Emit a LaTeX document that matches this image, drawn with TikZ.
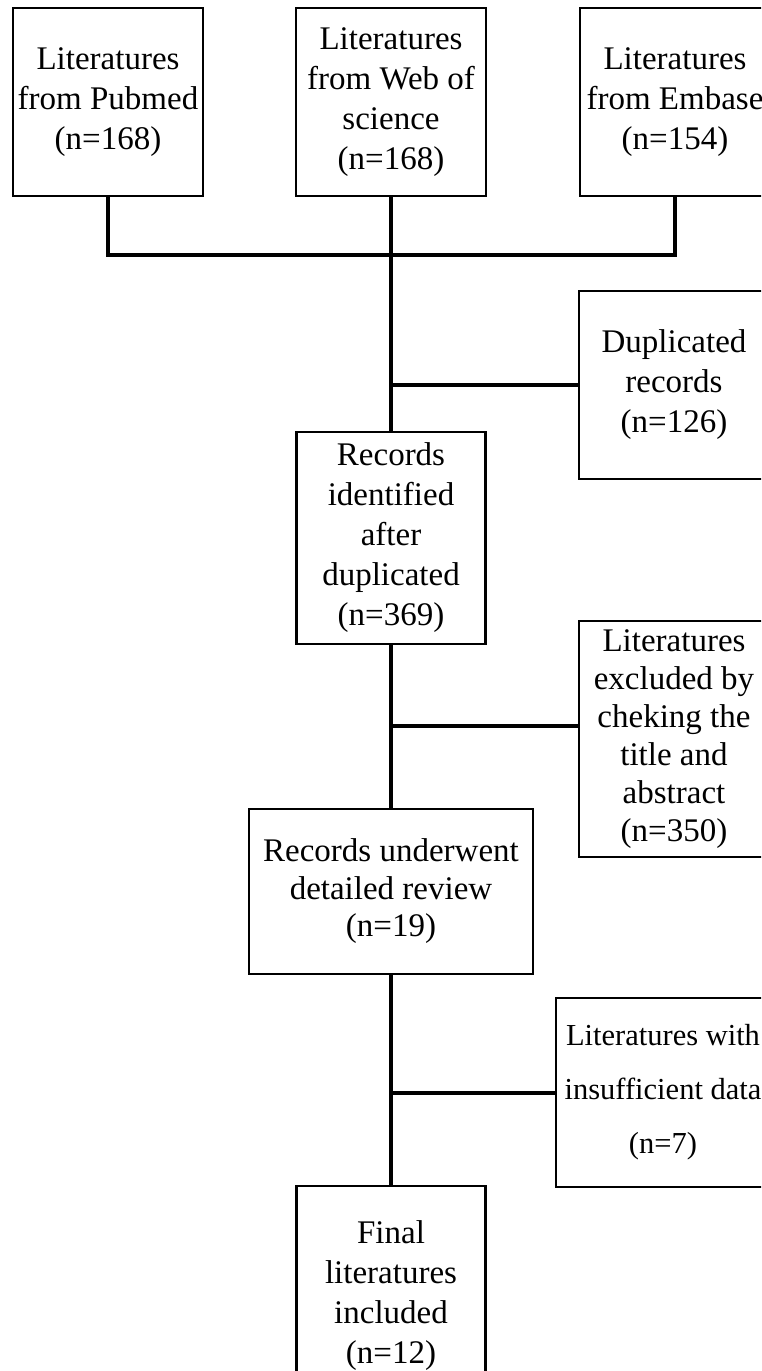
\documentclass[tikz,border=0pt]{standalone}
\usepackage{fontspec}
\setmainfont{Liberation Serif}
\begin{document}
\begin{tikzpicture}[x=1pt,y=1pt,
  box/.style={draw=black, line width=2.6pt, rectangle, inner sep=0pt, align=center,
    font=\fontsize{33}{40}\selectfont},
  conn/.style={draw=black, line width=4pt}]
\useasboundingbox (0,0) rectangle (761,-1371);
\clip (0,0) rectangle (761,-1371);
\node[box, minimum width=190, minimum height=188] (pub) at (108,-102) {Literatures\\from Pubmed\\(n=168)};
\node[box, minimum width=190, minimum height=188] (wos) at (391,-102) {Literatures\\from Web of\\science\\(n=168)};
\node[box, minimum width=190, minimum height=188] (emb) at (675,-102) {Literatures\\from Embase\\(n=154)};
\node[box, minimum width=190, minimum height=188] (dup) at (674,-385) {Duplicated\\records\\(n=126)};
\node[box, minimum width=189, minimum height=212] (rid) at (391,-538) {Records\\identified\\after\\duplicated\\(n=369)};
\node[box, minimum width=190, minimum height=236, font=\fontsize{33}{38}\selectfont] (exc) at (674,-739) {Literatures\\excluded by\\cheking the\\title and\\abstract\\(n=350)};
\node[box, minimum width=284, minimum height=165, font=\fontsize{33}{37.5}\selectfont] (und) at (391,-891.5) {Records underwent\\detailed review\\(n=19)};
\node[box, minimum width=214, minimum height=189, font=\fontsize{30.5}{54}\selectfont] (ins) at (663,-1092.5) {Literatures with\\insufficient data\\(n=7)};
\node[box, minimum width=189, minimum height=220] (fin) at (391,-1296) {Final\\literatures\\included\\(n=12)};
\coordinate (j1) at (391,-255);
\coordinate (j3) at (391,-726);
\draw[conn] (pub.south) |- (j1) -| (emb.south);
\draw[conn] (wos.south) -- (rid.north);
\draw[conn] (dup.west) -- (dup.west -| rid.north);
\draw[conn] (rid.south) -- (und.north);
\draw[conn] (j3) -- (j3 -| exc.west);
\draw[conn] (und.south) -- (fin.north);
\draw[conn] (ins.west) -- (ins.west -| fin.north);
\end{tikzpicture}
\end{document}
